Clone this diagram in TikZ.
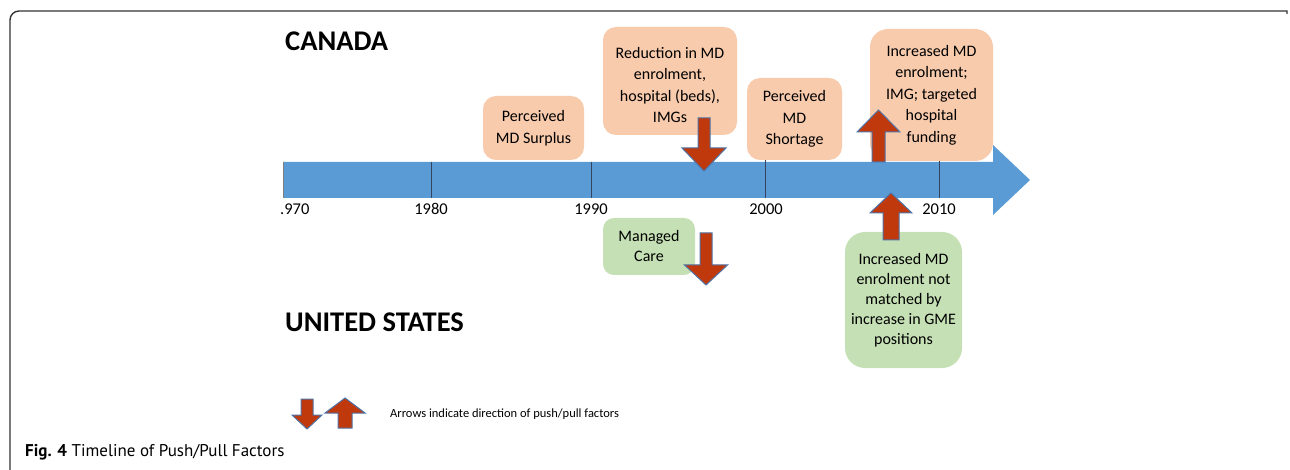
\documentclass[tikz,border=0pt]{standalone}
\usepackage{fontspec}
\setmainfont{Carlito}
\newfontfamily\capfont{PT Sans}
\definecolor{tlblue}{HTML}{5B9BD5}
\definecolor{boxorange}{HTML}{F8CBAD}
\definecolor{boxgreen}{HTML}{C5E0B4}
\definecolor{arrred}{HTML}{C0390C}
\definecolor{arredge}{HTML}{4F73A6}
\definecolor{tickcol}{HTML}{34435E}
\definecolor{framecol}{HTML}{333333}
\tikzset{
  pics/pushdown/.style args={#1/#2/#3/#4}{code={
    \filldraw[pparrow] (-#1,0) -- (#1,0) -- (#1,#3) -- (#2,#3) -- (0,#4) -- (-#2,#3) -- (-#1,#3) -- cycle;}},
  pics/pullup/.style args={#1/#2/#3/#4}{code={
    \filldraw[pparrow] (0,0) -- (#2,#3) -- (#1,#3) -- (#1,#4) -- (-#1,#4) -- (-#1,#3) -- (-#2,#3) -- cycle;}},
}
\begin{document}
\begin{tikzpicture}[x=1pt,y=-1pt,
  cabox/.style={fill=boxorange, rounded corners=13pt, align=center, font=\fontsize{16}{21.5}\selectfont, inner sep=0pt},
  usbox/.style={fill=boxgreen, rounded corners=13pt, align=center, font=\fontsize{16}{20}\selectfont, inner sep=0pt},
  boxtext/.style={align=center, font=\fontsize{16}{21.5}\selectfont, inner sep=0pt},
  pparrow/.style={fill=arrred, draw=arredge, line width=1pt, line join=miter},
  yearlab/.style={font=\fontsize{16.5}{19}\selectfont, inner sep=0pt},
  country/.style={font=\fontsize{28.5}{32}\selectfont\bfseries, anchor=west, inner sep=0pt},
  yeartick/.style={draw=tickcol, line width=0.8pt},
]
\useasboundingbox (0,0) rectangle (1290,470);
% frame
\draw[framecol, line width=1.4pt] (10,470) [rounded corners=9pt] -- (10,11) [sharp corners] -- (1287,11) -- (1287,14);
% country labels
\node[country] (canada) at (285,41) {CANADA};
\node[country] (usa) at (285,322) {UNITED STATES};
% timeline
\fill[tlblue] (283,162) -- (993,162) -- (993,145) -- (1030,180) -- (993,215) -- (993,198) -- (283,198) -- cycle;
\draw[gray, line width=0.8pt] (283.5,162) -- (283.5,198);
\draw[yeartick] (431,162) -- (431,198);
\draw[yeartick] (591,162) -- (591,198);
\draw[yeartick] (765,160) -- (765,198);
\draw[yeartick] (939,160) -- (939,198);
\node[yearlab, anchor=west] (y1970) at (280,209) {.970};
\node[yearlab] (y1980) at (431,209) {1980};
\node[yearlab] (y1990) at (591,209) {1990};
\node[yearlab] (y2000) at (766,209) {2000};
\node[yearlab] (y2010) at (939,209) {2010};
% Canada boxes
\node[cabox, minimum width=101pt, minimum height=64pt] (surplus) at (533.5,128) {Perceived\\MD Surplus};
\node[cabox, minimum width=134pt, minimum height=108pt] (reduction) at (670,81) {};
\node[boxtext] (reductiontext) at (670,85) {Reduction in MD\\enrolment,\\hospital (beds),\\IMGs};
\node[cabox, minimum width=95pt, minimum height=82pt] (shortage) at (794.5,119) {Perceived\\MD\\Shortage};
\node[cabox, rounded corners=18pt, minimum width=123pt, minimum height=132pt] (increase) at (931.5,95) {Increased MD\\enrolment;\\IMG; targeted\\hospital\\funding};
% US boxes
\node[usbox, rounded corners=11pt, minimum width=92pt, minimum height=57pt] (managed) at (649,246.5) {Managed\\Care};
\node[usbox, rounded corners=20pt, minimum width=117pt, minimum height=136pt] (gme) at (903.5,300) {Increased MD\\enrolment not\\matched by\\increase in GME\\positions};
% push/pull arrows
\pic at (704,118) {pushdown=6/22/30/53};
\pic at (878.5,110) {pullup=6.5/21.5/22/52};
\pic at (706,233) {pushdown=6/21.5/32/52};
\pic at (891,193) {pullup=8/21/20/47};
% legend
\pic at (307,399) {pushdown=6/15/16/30};
\pic at (345,398) {pullup=7/20/15/30};
\node[anchor=west, inner sep=0pt, font=\fontsize{12.5}{15}\selectfont] (legend) at (390,414) {Arrows indicate direction of push/pull factors};
% caption
\node[anchor=base west, inner sep=0pt, font=\capfont\fontsize{17}{20}\selectfont] (caption) at (25,456) {\textbf{Fig. 4} Timeline of Push/Pull Factors};
\end{tikzpicture}
\end{document}
